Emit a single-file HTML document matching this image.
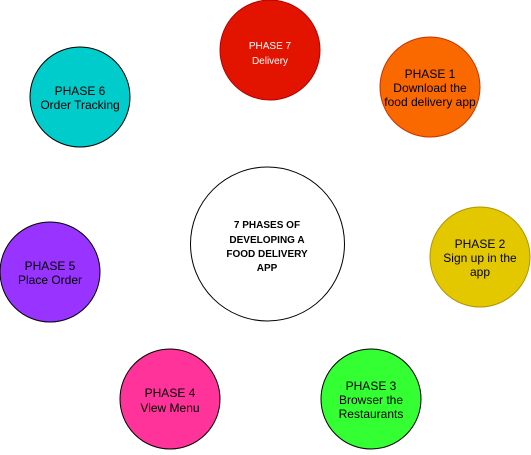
<!DOCTYPE html>
<html><head><meta charset="utf-8"><style>
body{margin:0;width:531px;height:450px;overflow:hidden;background:#fff}
text{font-family:"Liberation Sans",sans-serif;font-size:12px;text-anchor:middle}
</style></head><body>
<svg width="531" height="450">
<g><circle cx="270" cy="50" r="50" fill="#e21400" stroke="#b20000"/><text x="270" y="49" fill="#fff" font-size="10px" style="font-size:10px">PHASE 7</text><text x="270" y="64" fill="#fff" style="font-size:10px">Delivery</text></g>
<g><circle cx="430" cy="87" r="50" fill="#fa6800" stroke="#c73500"/><text x="430" y="78">PHASE 1</text><text x="430" y="92">Download the</text><text x="430" y="106">food delivery app</text></g>
<g><circle cx="480" cy="257" r="50" fill="#e3c800" stroke="#b09500"/><text x="480" y="248">PHASE 2</text><text x="480" y="262">Sign up in the</text><text x="480" y="276">app</text></g>
<g><circle cx="371" cy="399" r="50" fill="#33ff33" stroke="#000"/><text x="371" y="390">PHASE 3</text><text x="371" y="404">Browser the</text><text x="371" y="418">Restaurants</text></g>
<g><circle cx="170" cy="399" r="50" fill="#ff3399" stroke="#000"/><text x="170" y="397">PHASE 4</text><text x="170" y="412">View Menu</text></g>
<g><circle cx="50" cy="272" r="50" fill="#9933ff" stroke="#000"/><text x="50" y="270">PHASE 5</text><text x="50" y="284">Place Order</text></g>
<g><circle cx="80" cy="97" r="50" fill="#00cccc" stroke="#000"/><text x="80" y="95">PHASE 6</text><text x="80" y="109">Order Tracking</text></g>
<g><circle cx="267.5" cy="244" r="77" fill="#fff" stroke="#000"/>
<text x="267" y="228" style="font-size:10px;font-weight:bold">7 PHASES OF</text>
<text x="267" y="243" style="font-size:10px;font-weight:bold">DEVELOPING A</text>
<text x="267" y="257" style="font-size:10px;font-weight:bold">FOOD DELIVERY</text>
<text x="267" y="271" style="font-size:10px;font-weight:bold">APP</text></g>
</svg>
</body></html>
